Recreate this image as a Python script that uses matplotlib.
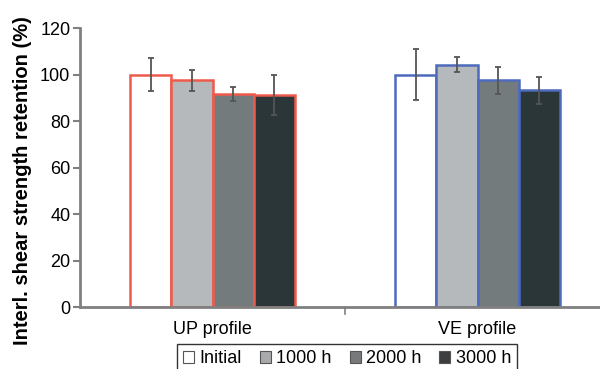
import numpy as np
import matplotlib.pyplot as plt
from matplotlib.patches import Patch

plt.rcParams["font.family"] = ["Liberation Sans", "DejaVu Sans"]

groups = ["UP profile", "VE profile"]
series = ["Initial", "1000 h", "2000 h", "3000 h"]
values = {
    "UP profile": [100.0, 97.6, 91.5, 91.3],
    "VE profile": [100.0, 104.2, 97.5, 93.2],
}
errors = {
    "UP profile": [7.0, 4.5, 3.0, 8.7],
    "VE profile": [10.8, 3.3, 5.8, 5.7],
}
fills = ["#ffffff", "#b5b9bc", "#737b7d", "#2a3638"]
legend_fills = ["#ffffff", "#a8aaac", "#78797b", "#3c3d3f"]
edges = {"UP profile": "#ee5a4c", "VE profile": "#4d6bbd"}

fig = plt.figure(figsize=(6, 3.69), dpi=100)
ax = fig.add_axes([0.1333, 0.168, 0.8667, 0.756])

width = 0.155
x = np.arange(len(groups))
offsets = (np.arange(len(series)) - 1.5) * width

for gi, g in enumerate(groups):
    for si, s in enumerate(series):
        ax.bar(x[gi] + offsets[si], values[g][si], width=width, color=fills[si],
               edgecolor=edges[g], linewidth=1.8, zorder=2)
        ax.errorbar(x[gi] + offsets[si], values[g][si], yerr=errors[g][si],
                    fmt="none", ecolor="#555555", elinewidth=1.3, capsize=2.5,
                    capthick=1.3, zorder=3)

ax.set_xlim(-0.5, 1.462)
ax.set_ylim(0, 120)
ax.set_yticks(range(0, 121, 20))
ax.set_xticks([])
ax.tick_params(axis="y", labelsize=13, length=5, width=1.5, color="#808080", pad=2)

# category labels and the separating tick
for gi, g in enumerate(groups):
    ax.text(x[gi], -6, g, ha="center", va="top", fontsize=13)
ax.plot([0.5, 0.5], [0, -3], color="#808080", lw=1.2, clip_on=False)

for side in ["top", "right"]:
    ax.spines[side].set_visible(False)
for side in ["left", "bottom"]:
    ax.spines[side].set_color("#808080")
    ax.spines[side].set_linewidth(2)

fig.text(0.037, 1 - 181 / 369, "Interl. shear strength retention (%)", fontsize=14.5,
         fontweight="bold", rotation=90, ha="center", va="center")

handles = [Patch(facecolor=c, edgecolor="#555555", linewidth=0.8) for c in legend_fills]
leg = fig.legend(handles, series, loc="upper left", bbox_to_anchor=(0.295, 0.068),
                 ncol=4, fontsize=13, frameon=True, fancybox=False,
                 handlelength=0.6, handleheight=0.6, handletextpad=0.3,
                 columnspacing=1.0, borderpad=0.35, borderaxespad=0)
leg.get_frame().set_edgecolor("black")
leg.get_frame().set_linewidth(1.0)

plt.savefig("out.png", dpi=100)
